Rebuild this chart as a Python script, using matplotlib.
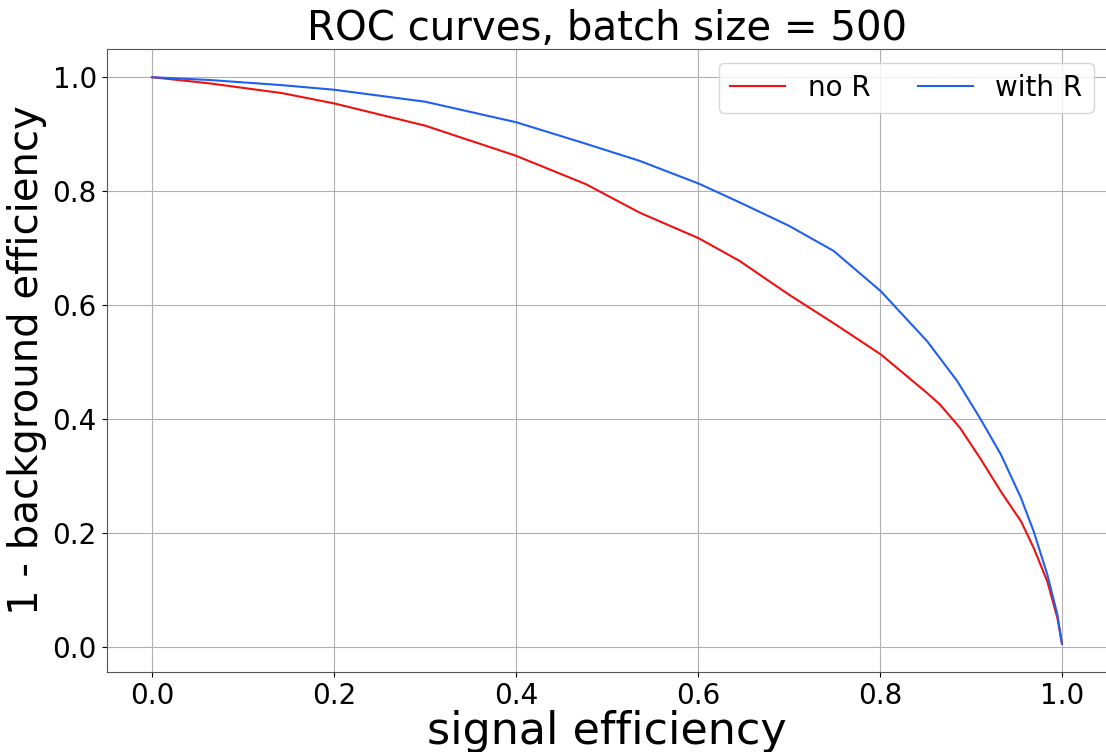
import numpy as np
import matplotlib
matplotlib.use("Agg")
import matplotlib.pyplot as plt

# ROC points (signal eff, 1 - background eff)
sig_noR = [0.0, 0.064, 0.143, 0.2, 0.3, 0.4, 0.477, 0.536, 0.601, 0.646,
           0.70, 0.749, 0.801, 0.852, 0.866, 0.888, 0.910, 0.933, 0.955,
           0.969, 0.984, 0.995, 1.0]
bkg_noR = [1.0, 0.989, 0.972, 0.954, 0.915, 0.862, 0.812, 0.762, 0.717, 0.677,
           0.618, 0.568, 0.513, 0.445, 0.425, 0.384, 0.331, 0.272, 0.220,
           0.173, 0.114, 0.050, 0.005]

sig_R = [0.0, 0.064, 0.143, 0.2, 0.3, 0.4, 0.477, 0.536, 0.601, 0.646,
         0.70, 0.749, 0.801, 0.852, 0.885, 0.910, 0.933, 0.955, 0.969,
         0.984, 0.995, 1.0]
bkg_R = [1.0, 0.995, 0.986, 0.978, 0.957, 0.921, 0.883, 0.853, 0.813, 0.780,
         0.739, 0.695, 0.624, 0.536, 0.466, 0.401, 0.337, 0.261, 0.202,
         0.126, 0.056, 0.005]


def main():
    fig = plt.figure(figsize=(11.06, 7.52), dpi=100)
    ax = fig.add_axes([0.0963, 0.1064, 0.905, 0.8286])

    ax.plot(sig_noR, bkg_noR, color='#f01010', linewidth=1.5, label="no R")
    ax.plot(sig_R, bkg_R, color='#2060f0', linewidth=1.5, label="with R")

    ax.set_title("ROC curves, batch size = 500", fontsize=29)
    ax.set_xlabel("signal efficiency", fontsize=32, labelpad=0)
    ax.set_ylabel("1 - background efficiency", fontsize=29)
    ax.tick_params(labelsize=20)
    ax.grid(True)
    for s in ax.spines.values():
        s.set_color('#555555')

    ax.legend(loc="upper right", ncol=2, fontsize=20, columnspacing=1.7)

    fig.savefig("out.png", dpi=100)


if __name__ == "__main__":
    main()
